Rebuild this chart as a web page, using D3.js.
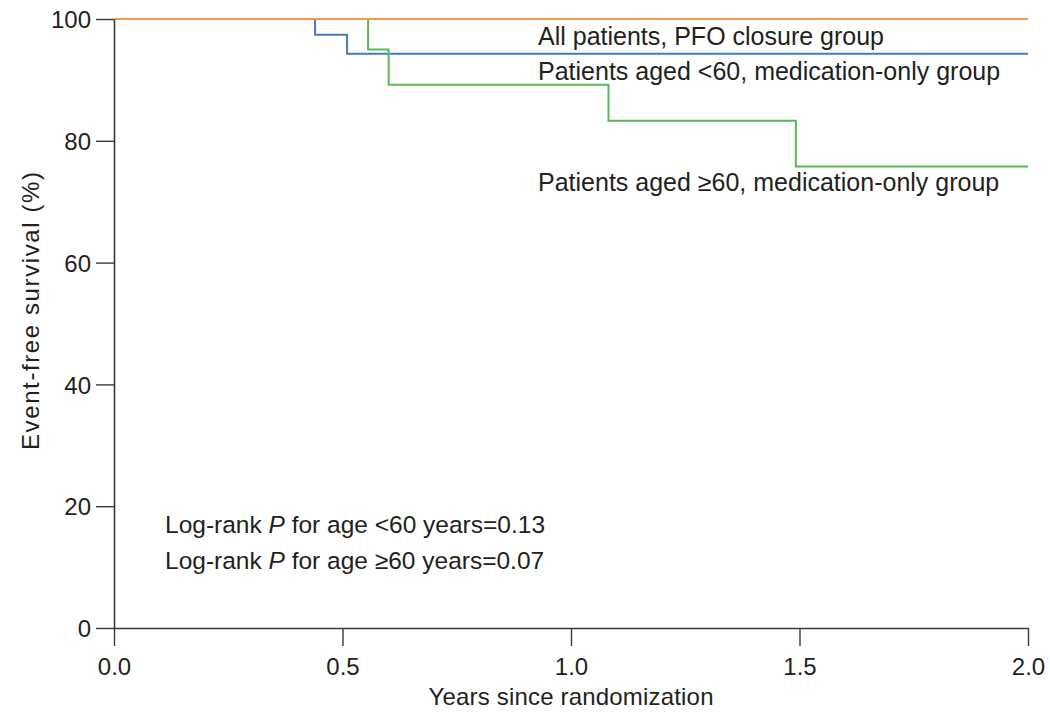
<!DOCTYPE html>
<html><head><meta charset="utf-8">
<script src="https://cdn.jsdelivr.net/npm/d3@7"></script>
<style>
body{margin:0;background:#fff;}
text{font-family:"Liberation Sans","Open Sans",sans-serif;fill:#231f20;}
</style></head>
<body><svg id="c" width="1050" height="714"></svg>
<script>
// data
const closureTimes = [0, 2.0];
const closureValues = [100, 100];
const youngTimes = [0, 0.44, 0.51, 2.0];
const youngValues = [100, 97.4, 94.3, 94.3];
const oldTimes = [0, 0.556, 0.601, 1.082, 1.492, 2.0];
const oldValues = [100, 95.0, 89.2, 83.3, 75.8, 75.8];
const xTicks = [0, 0.5, 1.0, 1.5, 2.0];
const yTicks = [0, 20, 40, 60, 80, 100];
const seriesNames = ["All patients, PFO closure group","Patients aged <60, medication-only group","Patients aged \u226560, medication-only group"];
const seriesColors = ["#f29a52","#4a77c2","#55b955"];

const svg = d3.select("#c");
const x = d3.scaleLinear().domain([0,2]).range([114,1028]);
const y = d3.scaleLinear().domain([0,100]).range([628,19]);

const line = d3.line().x(d=>x(d[0])).y(d=>y(d[1])).curve(d3.curveStepAfter);
const series = [
  d3.zip(closureTimes, closureValues),
  d3.zip(youngTimes, youngValues),
  d3.zip(oldTimes, oldValues)
];
[1,2,0].forEach(i=>{
  svg.append("path").attr("d", line(series[i])).attr("fill","none")
    .attr("stroke", seriesColors[i]).attr("stroke-width",2);
});

const axisColor = "#3a3a3a";
const xa = svg.append("g").attr("transform","translate(0,628)")
  .call(d3.axisBottom(x).tickValues(xTicks).tickFormat(d3.format(".1f")).tickSize(18).tickSizeOuter(0).tickPadding(5));
const ya = svg.append("g").attr("transform","translate(114,0)")
  .call(d3.axisLeft(y).tickValues(yTicks).tickSize(18).tickSizeOuter(0).tickPadding(5));
[xa,ya].forEach(a=>{
  a.select(".domain").attr("stroke",axisColor).attr("stroke-width",1.6);
  a.selectAll(".tick line").attr("stroke",axisColor).attr("stroke-width",1.4);
  a.selectAll(".tick text").attr("font-size",24).attr("fill","#231f20")
   .attr("font-family","'Liberation Sans',sans-serif");
});
xa.selectAll(".tick text").attr("dy","1.0em");
ya.selectAll(".tick text").attr("dy","0.36em");

svg.append("text").attr("x",571).attr("y",705).attr("text-anchor","middle")
  .attr("font-size",24).attr("textLength",285).text("Years since randomization");
svg.append("text").attr("transform","translate(39,311) rotate(-90)").attr("text-anchor","middle")
  .attr("font-size",24).attr("textLength",278).text("Event-free survival (%)");

const legY = [45, 80, 191];
seriesNames.forEach((n,i)=>{
  svg.append("text").attr("x",538).attr("y",legY[i]).attr("font-size",25).text(n);
});

const pLines = [["<60","0.13"],["\u226560","0.07"]];
pLines.forEach((p,i)=>{
  const t = svg.append("text").attr("x",165).attr("y",533+i*36).attr("font-size",24.5);
  t.append("tspan").text("Log-rank ");
  t.append("tspan").attr("font-style","italic").text("P");
  t.append("tspan").text(" for age "+p[0]+" years="+p[1]);
});
</script></body></html>
